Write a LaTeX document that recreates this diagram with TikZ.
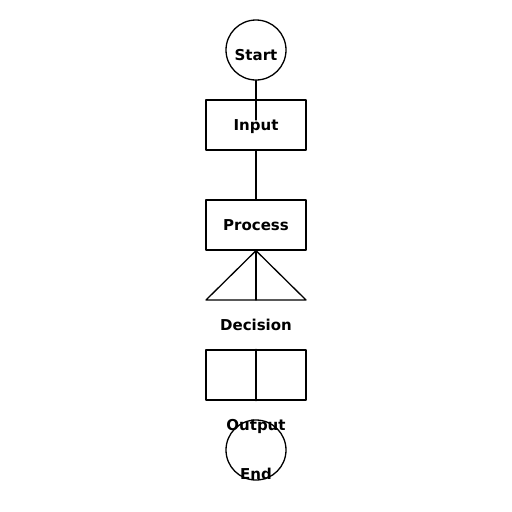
\documentclass[tikz,border=0pt]{standalone}
\usepackage{fontspec}
\newfontfamily\dejavu{DejaVu Sans}

\begin{document}
\begin{tikzpicture}[x=1pt, y=-1pt, line cap=round, line join=round,
  shape line/.style={line width=1.3pt},
  box/.style={draw, shape line, rectangle, minimum width=100pt, minimum height=50pt, inner sep=0pt},
  term/.style={draw, shape line, circle, minimum size=60pt, inner sep=0pt},
  lbl/.style={anchor=base, inner sep=0pt, font=\dejavu\bfseries\fontsize{15}{18}\selectfont}]

% Fix the page to the reference size
\useasboundingbox (0,0) rectangle (512,512);

% Shapes
\node[term] (start) at (256,50) {};
\node[box] (input) at (256,125) {};
\node[box] (process) at (256,225) {};
\node[box] (output) at (256,375) {};
\node[term] (end) at (256,450) {};

% Decision triangle under the process box
\coordinate (decL) at (206,300);
\coordinate (decR) at (306,300);
\coordinate (decB) at (256,300);
\draw[shape line] (decL) -- (process.south) -- (decR) -- cycle;
\draw[shape line] (process.south) -- (decB);

% Divider in the output box
\draw[shape line] (output.north) -- (output.south);

% Connectors
\coordinate (inputIn) at (256,120);
\draw[shape line] (start.south) -- (inputIn);
\draw[shape line] (input.south) -- (process.north);

% Labels
\node[lbl] (startText) at (256,60) {Start};
\node[lbl] (inputText) at (256,130) {Input};
\node[lbl] (processText) at (256,230) {Process};
\node[lbl] (decisionText) at (256,330) {Decision};
\node[lbl] (outputText) at (256,430) {Output};
\node[lbl] (endText) at (256,479) {End};

\end{tikzpicture}
\end{document}
